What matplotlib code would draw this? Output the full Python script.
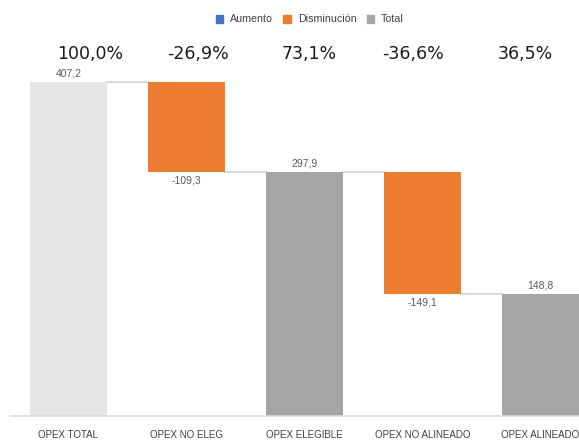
import numpy as np
import matplotlib.pyplot as plt
from matplotlib.patches import Patch

# OPEX waterfall
categories = ['OPEX TOTAL', 'OPEX NO ELEG', 'OPEX ELEGIBLE', 'OPEX NO ALINEADO', 'OPEX ALINEADO']
values = [407.2, -109.3, 297.9, -149.1, 148.8]
kinds = ['total', 'decrease', 'total', 'decrease', 'total']
percent_labels = ['100,0%', '-26,9%', '73,1%', '-36,6%', '36,5%']

C_UP = '#4472c4'
C_DOWN = '#ed7d31'
C_TOTAL = '#a5a5a5'
C_FIRST = '#e6e6e6'

plt.rcParams['font.family'] = ['Liberation Sans', 'DejaVu Sans']

fig = plt.figure(figsize=(5.79, 4.46), dpi=100)
ax = fig.add_axes([9.5 / 579, 30 / 446, (579 - 9.5) / 579, 369 / 446])

x = np.arange(len(categories))
width = 0.66
# the percentage boxes sit a little off the bar centres
pct_shift = [0.18, 0.10, 0.04, -0.08, -0.13]

def fmt(v):
    return ('%.1f' % v).replace('.', ',')

levels = []
level = 0.0
for i, (v, k) in enumerate(zip(values, kinds)):
    if k == 'total':
        b, t = 0.0, v
        level = v
    else:
        b, t = level + v, level
        level = level + v
    levels.append(level)
    if k == 'total':
        color = C_FIRST if i == 0 else C_TOTAL
    else:
        color = C_DOWN if v < 0 else C_UP
    ax.bar(x[i], t - b, width, bottom=b, color=color, zorder=2)
    if k == 'total':
        ax.annotate(fmt(v), (x[i], t), xytext=(0, 2.5), textcoords='offset points',
                    ha='center', va='bottom', fontsize=7.5, color='#595959')
    else:
        ax.annotate(fmt(v), (x[i], b), xytext=(0, -2.5), textcoords='offset points',
                    ha='center', va='top', fontsize=7.5, color='#595959')
    ax.text(x[i] + pct_shift[i], 441, percent_labels[i], ha='center', va='center',
            fontsize=12.5, family='DejaVu Sans', color='#1a1a1a', clip_on=False)

# connector lines between bars
for i in range(len(values) - 1):
    ax.plot([x[i] + width / 2, x[i + 1] - width / 2], [levels[i], levels[i]],
            color='#d9d9d9', lw=1.5, zorder=1)

ax.set_xlim(-0.5, (579 - 9.5) / 118 - 0.5)
ax.set_ylim(0, 450)
ax.set_xticks(x)
ax.set_xticklabels(categories, fontsize=7, color='#404040')
ax.tick_params(axis='x', length=0, pad=10)
ax.set_yticks([])
for s in ['top', 'right', 'left']:
    ax.spines[s].set_visible(False)
ax.spines['bottom'].set_color('#d9d9d9')
ax.spines['bottom'].set_linewidth(1.2)

handles = [Patch(color=C_UP, label='Aumento'),
           Patch(color=C_DOWN, label='Disminución'),
           Patch(color=C_TOTAL, label='Total')]
fig.legend(handles=handles, loc='center', bbox_to_anchor=(0.535, 1 - 19.5 / 446), ncol=3,
           frameon=False, fontsize=7.7, handlelength=0.7, handleheight=0.7,
           handletextpad=0.65, columnspacing=0.95, labelcolor='#404040')

fig.savefig('out.png', dpi=100)
